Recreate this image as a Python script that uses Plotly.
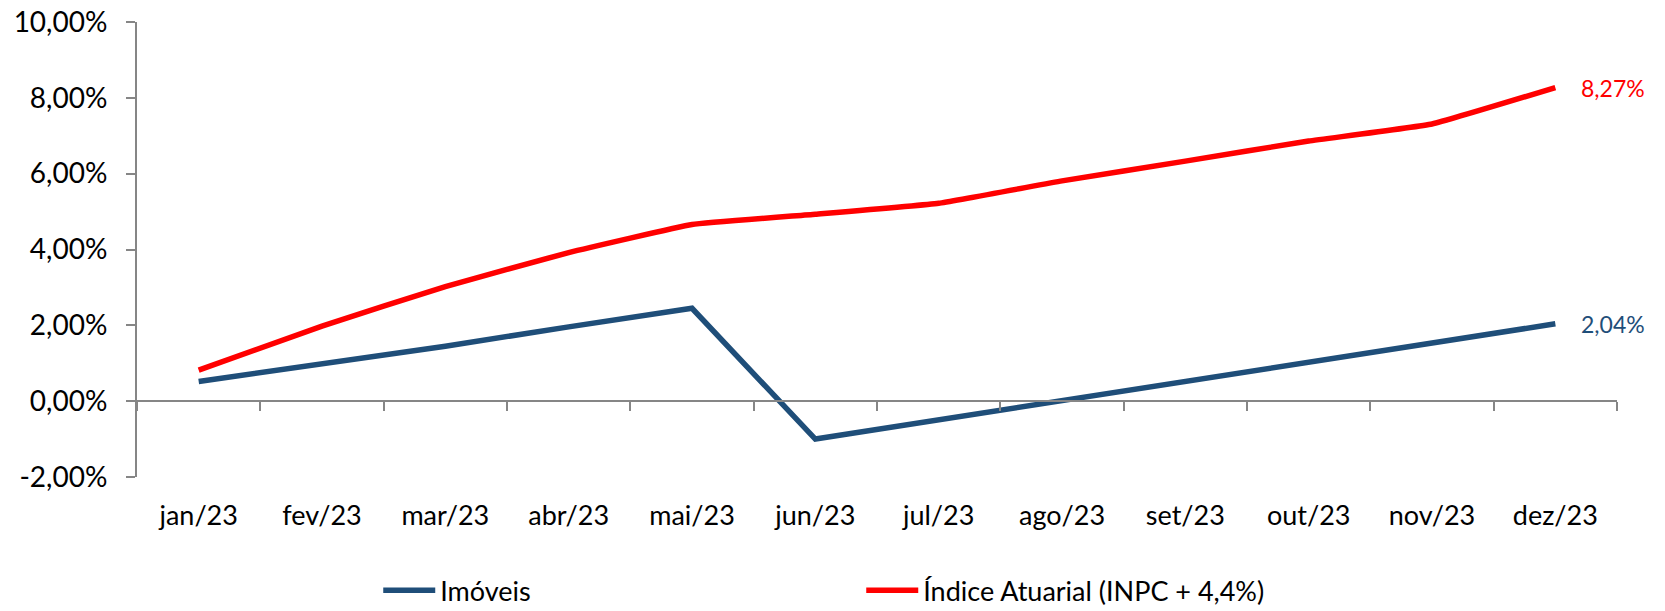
import plotly.graph_objects as go

# ── dados ──────────────────────────────────────────────
meses = ["jan/23", "fev/23", "mar/23", "abr/23", "mai/23", "jun/23",
         "jul/23", "ago/23", "set/23", "out/23", "nov/23", "dez/23"]
imoveis = [0.52, 0.97, 1.45, 1.96, 2.45, -1.00, -0.49, 0.00, 0.51, 1.02, 1.54, 2.04]
indice_atuarial = [0.82, 1.98, 3.02, 3.92, 4.66, 4.93, 5.22, 5.81, 6.33, 6.86, 7.31, 8.27]
y_ticks = [-2, 0, 2, 4, 6, 8, 10]

AZUL = "#1F4E79"
VERMELHO = "#FF0000"
EIXO = "#868686"
FONTE = "Lato"

x_pos = list(range(len(meses)))


def pct(v):
    return f"{v:.2f}%".replace(".", ",")


fig = go.Figure()

fig.add_trace(go.Scatter(
    x=x_pos, y=imoveis, name="Imóveis", mode="lines",
    line=dict(color=AZUL, width=5.5),
))
fig.add_trace(go.Scatter(
    x=x_pos, y=indice_atuarial, name="Índice Atuarial (INPC + 4,4%)", mode="lines",
    line=dict(color=VERMELHO, width=5.5, shape="spline", smoothing=0.3),
))

# rótulos no último ponto
for serie, cor in ((indice_atuarial, VERMELHO), (imoveis, AZUL)):
    fig.add_annotation(
        x=x_pos[-1], y=serie[-1], text=pct(serie[-1]),
        xanchor="left", yanchor="middle", xshift=24, showarrow=False,
        font=dict(family=FONTE, size=23, color=cor),
    )

n = len(meses)
fig.update_layout(
    width=1665, height=611,
    margin=dict(l=137, r=48, t=22, b=134, autoexpand=False),
    paper_bgcolor="white", plot_bgcolor="white",
    font=dict(family=FONTE, size=28, color="black"),
    showlegend=True,
    legend=dict(
        orientation="h", x=0.163, xanchor="left", y=-0.25, yanchor="middle",
        entrywidth=416, entrywidthmode="pixels",
        font=dict(family=FONTE, size=27, color="black"),
        itemwidth=52, tracegroupgap=0,
    ),
    xaxis=dict(
        range=[-0.5, n - 0.5], tickmode="array", tickvals=x_pos, ticktext=meses,
        showline=False, showgrid=False, zeroline=False, ticks="",
        ticklabelstandoff=20, tickfont=dict(size=27),
    ),
    # eixo na linha do zero com marcas entre as categorias
    xaxis2=dict(
        overlaying="x", anchor="free", position=2 / 12, side="bottom",
        range=[-0.5, n - 0.5], tickmode="array",
        tickvals=[i - 0.5 for i in range(n + 1)],
        showticklabels=False, showline=True, linecolor=EIXO, linewidth=2,
        ticks="outside", ticklen=9, tickcolor=EIXO, tickwidth=2,
        showgrid=False, zeroline=False,
    ),
    yaxis=dict(
        range=[-2, 10], tickmode="array", tickvals=y_ticks,
        ticktext=[pct(v) for v in y_ticks],
        showline=True, linecolor=EIXO, linewidth=2,
        ticks="outside", ticklen=9, tickcolor=EIXO, tickwidth=2,
        showgrid=False, zeroline=False, ticklabelstandoff=13,
    ),
)

# traço invisível para ativar o eixo x2
fig.add_trace(go.Scatter(
    x=[x_pos[0]], y=[0], xaxis="x2", mode="markers",
    marker=dict(opacity=0), showlegend=False, hoverinfo="skip",
))

# tira a margem padrão do body para a figura ocupar a janela inteira
fig.write_html(
    "out.html",
    config={"displayModeBar": False},
    post_script="document.body.style.margin = '0';",
)
